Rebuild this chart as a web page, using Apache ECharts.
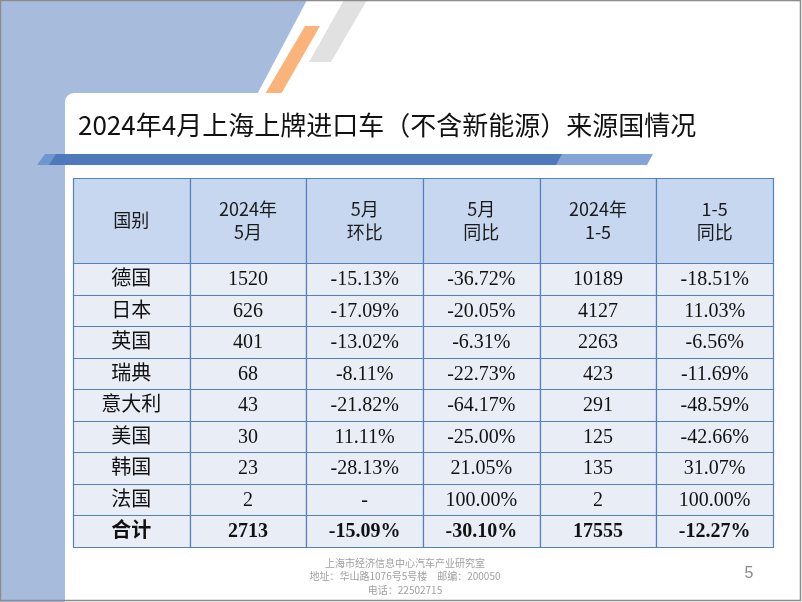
<!DOCTYPE html>
<html>
<head>
<meta charset="utf-8">
<script src="https://cdn.jsdelivr.net/npm/echarts@6/dist/echarts.min.js"></script>
<style>html,body{margin:0;padding:0;background:#fff;}#main{width:802px;height:602px;}</style>
</head>
<body>
<div id="main"></div>
<script>
// ---- data ----
var headers = ['国别', '2024年\n5月', '5月\n环比', '5月\n同比', '2024年\n1-5', '1-5\n同比'];
var countries = ['德国', '日本', '英国', '瑞典', '意大利', '美国', '韩国', '法国'];
var may2024 = [1520, 626, 401, 68, 43, 30, 23, 2];
var mayMoM = [-15.13, -17.09, -13.02, -8.11, -21.82, 11.11, -28.13, null];
var mayYoY = [-36.72, -20.05, -6.31, -22.73, -64.17, -25.00, 21.05, 100.00];
var ytd2024 = [10189, 4127, 2263, 423, 291, 125, 135, 2];
var ytdYoY = [-18.51, 11.03, -6.56, -11.69, -48.59, -42.66, 31.07, 100.00];
var totalLabel = '合计';
var totalRow = [2713, -15.09, -30.10, 17555, -12.27];
var titleText = '2024年4月上海上牌进口车（不含新能源）来源国情况';
var footerLines = ['上海市经济信息中心汽车产业研究室', '地址：华山路1076号5号楼　邮编：200050', '电话：22502715'];
var pageNo = '5';

function pct(v) { return v === null ? '-' : v.toFixed(2) + '%'; }

var headerData = headers.map(function (h, i) { return [i, 0, h]; });
var bodyRows = countries.map(function (c, i) {
  return [c, String(may2024[i]), pct(mayMoM[i]), pct(mayYoY[i]), String(ytd2024[i]), pct(ytdYoY[i])];
});
bodyRows.push([totalLabel, String(totalRow[0]), pct(totalRow[1]), pct(totalRow[2]), String(totalRow[3]), pct(totalRow[4])]);
var rowNames = countries.concat([totalLabel]);
var bodyData = [];
bodyRows.forEach(function (row, r) {
  row.forEach(function (txt, c) { bodyData.push([c, r, txt, r === bodyRows.length - 1 ? 1 : 0]); });
});

var BORDER = '#5580bf';
function cellRenderer(fill, isHeader) {
  return function (params, api) {
    var c = api.coord([api.value(0), api.value(1)]);
    var s = api.size([1, 1]);
    var x0 = Math.round(c[0] - s[0] / 2) + 0.5;
    var y0 = Math.round(c[1] - s[1] / 2) + 0.5;
    var x1 = Math.round(c[0] + s[0] / 2) + 0.5;
    var y1 = Math.round(c[1] + s[1] / 2) + 0.5;
    var item = (isHeader ? headerData : bodyData)[params.dataIndex];
    var bold = !isHeader && item[3] === 1;
    var textStyle = isHeader ? {
      text: item[2], x: c[0], y: c[1], align: 'center', verticalAlign: 'middle',
      fontSize: 18, lineHeight: 23, fontFamily: '"Noto Sans CJK SC", "Noto Sans", sans-serif', fill: '#1a1a1a'
    } : {
      text: item[2], x: c[0], y: c[1] + 1, align: 'center', verticalAlign: 'middle',
      fontSize: 20, fontWeight: bold ? 'bold' : 'normal',
      fontFamily: '"Liberation Serif", "Noto Sans CJK SC", serif', fill: '#111'
    };
    return {
      type: 'group',
      children: [
        { type: 'rect', shape: { x: x0, y: y0, width: x1 - x0, height: y1 - y0 },
          style: { fill: fill, stroke: BORDER, lineWidth: 1.2 } },
        { type: 'text', style: textStyle }
      ]
    };
  };
}

var chart = echarts.init(document.getElementById('main'), null, { renderer: 'canvas' });
chart.setOption({
  animation: false,
  backgroundColor: '#ffffff',
  title: {
    text: titleText, left: 78, top: 112, padding: 0,
    textStyle: { fontSize: 26, fontWeight: 'normal', color: '#111', fontFamily: '"Noto Sans CJK SC", sans-serif' }
  },
  graphic: [
    { type: 'rect', shape: { x: 0, y: 0, width: 66, height: 602 }, style: { fill: '#a7bcdc' }, z: -10 },
    { type: 'polygon', shape: { points: [[0, 0], [307, 0], [252, 104], [0, 104]] }, style: { fill: '#a7bcdc' }, z: -10 },
    { type: 'polygon', shape: { points: [[344, 0], [367, 0], [331, 62], [309, 62]] }, style: { fill: '#e1e1e1' }, z: -10 },
    { type: 'polygon', shape: { points: [[305, 26], [320, 26], [281, 94], [265, 94]] }, style: { fill: '#fbb37c' }, z: -10 },
    { type: 'rect', shape: { x: 65, y: 93, width: 760, height: 520, r: [9, 0, 0, 0] }, style: { fill: '#ffffff' }, z: -9 },
    { type: 'polygon', shape: { points: [[45, 154], [58, 154], [51, 165], [37, 165]] }, style: { fill: '#7195cf' }, z: -8 },
    { type: 'polygon', shape: { points: [[56, 154], [563, 154], [557, 165], [49, 165]] }, style: { fill: '#4e79bb' }, z: -8 },
    { type: 'polygon', shape: { points: [[562, 154], [653, 154], [647, 165], [556, 165]] }, style: { fill: '#86a5d6' }, z: -8 },
    { type: 'text', style: { text: footerLines.join('\n'), x: 405, y: 556, align: 'center', verticalAlign: 'top',
      fontSize: 10, lineHeight: 13.5, fontFamily: '"Noto Sans CJK SC", sans-serif', fill: '#a0a0a0' }, z: -5 },
    { type: 'text', style: { text: pageNo, x: 749, y: 574, align: 'center', verticalAlign: 'middle',
      fontSize: 16, fontFamily: '"Liberation Sans", sans-serif', fill: '#8a8a8a' }, z: -5 },
    { type: 'rect', shape: { x: 0.5, y: 0.5, width: 800, height: 600 }, style: { fill: 'none', stroke: '#8c8c8c', lineWidth: 1.5 }, z: 100 }
  ],
  grid: [
    { left: 73, right: 29, top: 178, height: 85 },
    { left: 73, right: 29, top: 263, height: 284 }
  ],
  xAxis: [
    { gridIndex: 0, type: 'category', data: headers, show: false },
    { gridIndex: 1, type: 'category', data: headers, show: false }
  ],
  yAxis: [
    { gridIndex: 0, type: 'category', data: ['header'], show: false, inverse: true },
    { gridIndex: 1, type: 'category', data: rowNames, show: false, inverse: true }
  ],
  series: [
    { type: 'custom', xAxisIndex: 0, yAxisIndex: 0, data: headerData.map(function (d) { return [d[0], d[1]]; }),
      renderItem: cellRenderer('#c7d7ef', true), silent: true },
    { type: 'custom', xAxisIndex: 1, yAxisIndex: 1, data: bodyData.map(function (d) { return [d[0], d[1]]; }),
      renderItem: cellRenderer('#e9edf5', false), silent: true }
  ]
});
</script>
</body>
</html>
